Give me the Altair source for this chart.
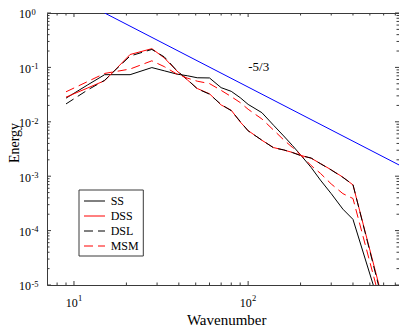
import altair as alt
import pandas as pd

# ---------------- data ----------------
wavenumber = [9, 12, 15, 21, 28, 33, 39, 45, 51, 60, 70, 80, 90, 100,
              120, 140, 160, 180, 200, 230, 260, 300, 350, 400]
ss = [0.0272, 0.0478, 0.0735, 0.0735, 0.0992, 0.0866, 0.0753, 0.0700, 0.0645, 0.0640,
      0.0424, 0.0363, 0.0278, 0.0209, 0.0147, 0.00863, 0.00549, 0.00364, 0.00247,
      0.00145, 0.000849, 0.000478, 0.000248, 0.000161]
dss = [0.0284, 0.0419, 0.0570, 0.1726, 0.2208, 0.1495, 0.0859, 0.0582, 0.0410, 0.0327,
       0.0204, 0.0163, 0.00996, 0.00689, 0.00457, 0.00336, 0.00303, 0.00273, 0.00242,
       0.00214, 0.00171, 0.00131, 0.000960, 0.000692]
dsl = [0.0213, 0.0386, 0.0580, 0.162, 0.214, 0.156, 0.087, 0.059, 0.0405, 0.0322,
       0.0208, 0.0160, 0.0102, 0.0068, 0.0046, 0.00332, 0.00305, 0.00271, 0.00240,
       0.00216, 0.00170, 0.00130, 0.000950, 0.000700]
msm = [0.0356, 0.0551, 0.0775, 0.0933, 0.1322, 0.1033, 0.0753, 0.0632, 0.0558, 0.0504,
       0.0378, 0.0290, 0.0226, 0.0170, 0.01127, 0.00703, 0.00466, 0.00336, 0.00247,
       0.00157, 0.00113, 0.000720, 0.000478, 0.000389]
# where each curve drops through the bottom of the axes (E = 1e-5)
tail_k = [523, 564, 560, 542]
tail_e = [1e-5, 1e-5, 1e-5, 1e-5]

series_names = ["SS", "DSS", "DSL", "MSM"]
series_values = [ss, dss, dsl, msm]

slope_k = [15, 800]
slope_e = [1.0, 0.0014]
slope_label = "-5/3"
slope_label_k = [115]
slope_label_e = [0.1]

x_major = [10, 100]
x_major_exp = ["1", "2"]
x_minor = [8, 9, 20, 30, 40, 50, 60, 70, 80, 90, 200, 300, 400, 500, 600, 700]
y_major = [1, 0.1, 0.01, 0.001, 0.0001, 0.00001]
y_major_exp = ["0", "-1", "-2", "-3", "-4", "-5"]
y_minor = [m * 10.0 ** e for e in range(-5, 0) for m in range(2, 10)]

# ---------------- styles ----------------
W, H = 352, 272
F = "Liberation Serif"
AX = "#3a3a3a"
colors = ["#000000", "#ff0000", "#000000", "#ff0000"]
dashes = [None, None, [9, 5], [9, 5]]

xs = alt.Scale(type="log", domain=[7, 735], nice=False)
ys = alt.Scale(type="log", domain=[0.00001, 1], nice=False)
X = alt.X("k:Q", scale=xs, axis=None)
Y = alt.Y("E:Q", scale=ys, axis=None)

layers = []

# blue -5/3 reference line
layers.append(
    alt.Chart(pd.DataFrame({"k": slope_k, "E": slope_e}))
    .mark_line(color="#0000ff", strokeWidth=1, clip=True)
    .encode(x=X, y=Y)
)

# data curves
for i, (name, vals) in enumerate(zip(series_names, series_values)):
    df = pd.DataFrame({"k": wavenumber + [tail_k[i]], "E": vals + [tail_e[i]]})
    kw = dict(color=colors[i], strokeWidth=1, clip=True)
    if dashes[i]:
        kw["strokeDash"] = dashes[i]
    layers.append(alt.Chart(df).mark_line(**kw).encode(x=X, y=Y))

# -5/3 annotation
layers.append(
    alt.Chart(pd.DataFrame({"k": slope_label_k, "E": slope_label_e, "t": [slope_label]}))
    .mark_text(font=F, fontSize=13, align="center", baseline="middle", color="black")
    .encode(x=X, y=Y, text="t:N")
)

# inward ticks on all four sides
def xticks(vals, length):
    d = pd.DataFrame({"k": vals})
    b = alt.Chart(d).mark_rule(color=AX, strokeWidth=1).encode(
        x=X, y=alt.value(H), y2=alt.value(H - length))
    t = alt.Chart(d).mark_rule(color=AX, strokeWidth=1).encode(
        x=X, y=alt.value(0), y2=alt.value(length))
    return [b, t]

def yticks(vals, length):
    d = pd.DataFrame({"E": vals})
    l = alt.Chart(d).mark_rule(color=AX, strokeWidth=1).encode(
        y=Y, x=alt.value(0), x2=alt.value(length))
    r = alt.Chart(d).mark_rule(color=AX, strokeWidth=1).encode(
        y=Y, x=alt.value(W), x2=alt.value(W - length))
    return [l, r]

layers += xticks(x_major, 4) + xticks(x_minor, 2.5)
layers += yticks(y_major, 4) + yticks(y_minor, 2.5)

# tick labels: "10" with superscript exponent
xl = pd.DataFrame({"k": x_major, "b": ["10"] * len(x_major), "e": x_major_exp})
layers.append(alt.Chart(xl).mark_text(font=F, fontSize=12, align="right", baseline="alphabetic",
                                      dx=3.7, color="black")
              .encode(x=X, y=alt.value(H + 21.7), text="b:N"))
layers.append(alt.Chart(xl).mark_text(font=F, fontSize=8.5, align="left", baseline="alphabetic",
                                      dx=3.9, color="black")
              .encode(x=X, y=alt.value(H + 15.7), text="e:N"))

yl = pd.DataFrame({"E": y_major, "b": ["10"] * len(y_major), "e": y_major_exp})
layers.append(alt.Chart(yl).mark_text(font=F, fontSize=12, align="right", baseline="alphabetic",
                                      dy=5.3, color="black")
              .encode(x=alt.value(-16), y=Y, text="b:N"))
layers.append(alt.Chart(yl).mark_text(font=F, fontSize=8.5, align="left", baseline="alphabetic",
                                      dy=1.7, color="black")
              .encode(x=alt.value(-15.5), y=Y, text="e:N"))

# axis titles
layers.append(alt.Chart(pd.DataFrame({"t": ["Wavenumber"]}))
              .mark_text(font=F, fontSize=15, align="center", baseline="alphabetic", color="black")
              .encode(x=alt.value(179.7), y=alt.value(H + 40), text="t:N"))
layers.append(alt.Chart(pd.DataFrame({"t": ["Energy"]}))
              .mark_text(font=F, fontSize=14, align="center", baseline="alphabetic", angle=270,
                         color="black")
              .encode(x=alt.value(-28.5), y=alt.value(130), text="t:N"))

# legend box
LY = 177
layers.append(alt.Chart(pd.DataFrame({"a": [0]}))
              .mark_rect(fill="white", stroke=AX, strokeWidth=1)
              .encode(x=alt.value(32), x2=alt.value(96.3), y=alt.value(LY), y2=alt.value(LY + 66)))
for i, name in enumerate(series_names):
    yy = LY + 11 + 15 * i
    kw = dict(color=colors[i], strokeWidth=1)
    if dashes[i]:
        kw["strokeDash"] = dashes[i]
    d = pd.DataFrame({"name": [name]})
    layers.append(alt.Chart(d).mark_rule(**kw)
                  .encode(x=alt.value(37), x2=alt.value(58), y=alt.value(yy)))
    layers.append(alt.Chart(d).mark_text(font=F, fontSize=12, align="left", baseline="middle",
                                         color="black")
                  .encode(x=alt.value(63.7), y=alt.value(yy), text="name:N"))

chart = (
    alt.layer(*layers)
    .properties(width=W, height=H,
                autosize=alt.AutoSizeParams(type="none"),
                padding={"left": 39, "top": 5, "right": 0, "bottom": 42},
                background="white")
    .configure_view(stroke=AX, strokeWidth=1)
)

chart.save("out.html", embed_options={"renderer": "svg", "actions": False})
